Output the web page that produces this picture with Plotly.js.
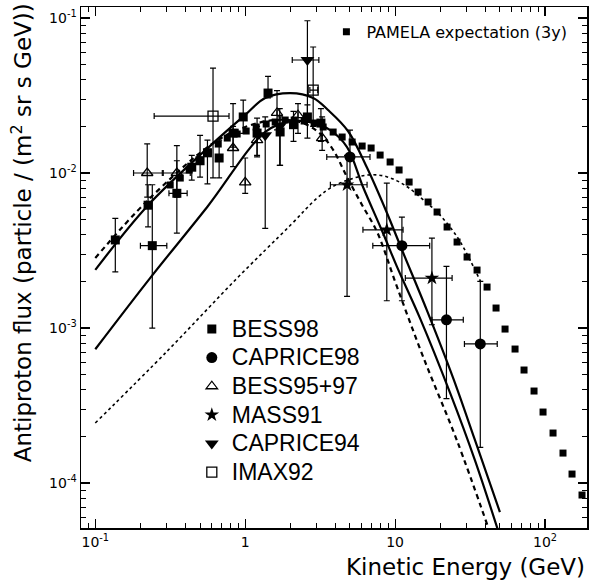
<!DOCTYPE html>
<html>
<head>
<meta charset="utf-8">
<script src="https://cdn.plot.ly/plotly-3.0.1.min.js"></script>
<style>
html,body{margin:0;padding:0;background:#fff;}
#chart{width:589px;height:583px;}
</style>
</head>
<body>
<div id="chart"></div>
<script>
// ---------- Model curves ----------
const curveUpperX = [0.1, 0.225, 0.612, 1.0, 1.36, 2.0, 2.84, 3.57, 4.86, 6.5, 8.84, 11.1, 16.3, 24.4, 34.1, 50];
const curveUpperY = [2.37e-3, 6.2e-3, 1.56e-2, 2.37e-2, 3.05e-2, 3.28e-2, 3.05e-2, 2.55e-2, 1.86e-2, 1.08e-2, 5.5e-3, 3.2e-3, 1.3e-3, 4.75e-4, 1.89e-4, 6.5e-5];

const curveMidX = [0.1, 0.232, 0.558, 1.36, 2.0, 2.71, 3.69, 4.78, 6.12, 8.3, 10.3, 14.7, 23.3, 34.1, 48.5];
const curveMidY = [7.3e-4, 2.1e-3, 6.04e-3, 1.84e-2, 2.16e-2, 2.13e-2, 1.89e-2, 1.47e-2, 8.1e-3, 4.1e-3, 2.48e-3, 1.15e-3, 3.8e-4, 1.4e-4, 4.98e-5];

const curveDashX = [0.1, 0.225, 0.612, 1.0, 1.585, 2.33, 3.07, 3.86, 4.78, 6.03, 7.59, 10.3, 15.4, 25.8, 41.7];
const curveDashY = [2.83e-3, 6.7e-3, 1.56e-2, 1.98e-2, 2.2e-2, 2.13e-2, 1.84e-2, 1.41e-2, 9.4e-3, 6.2e-3, 4.16e-3, 1.84e-3, 6.5e-4, 1.89e-4, 5.2e-5];

const curveDotX = [0.1, 0.302, 0.884, 2.0, 3.02, 3.86, 5.0, 6.5, 8.3, 10.3, 12.6, 16.3, 19.1, 25.8, 31.6, 37.3];
const curveDotY = [2.44e-4, 7.1e-4, 2.1e-3, 4.6e-3, 6.9e-3, 8.2e-3, 9.1e-3, 9.7e-3, 9.6e-3, 8.9e-3, 7.9e-3, 6.4e-3, 5.6e-3, 3.9e-3, 2.75e-3, 1.98e-3];

// ---------- PAMELA expectation ----------
const pamelaX = [0.316, 0.369, 0.423, 0.494, 0.567, 0.661, 0.759, 0.884, 1.015, 1.184, 1.380, 1.585, 1.848, 2.122, 2.474, 2.884, 3.311, 3.861, 4.434, 5.168, 6.026, 6.918, 7.943, 9.261, 10.63, 12.40, 14.23, 16.60, 19.05, 22.22, 25.90, 30.20, 35.21, 41.05, 47.13, 54.12, 63.10, 72.44, 84.48, 97.0, 113.1, 131.8, 151.4, 176.5];
const pamelaY = [8.37e-3, 9.28e-3, 1.046e-2, 1.213e-2, 1.366e-2, 1.538e-2, 1.681e-2, 1.785e-2, 1.866e-2, 1.981e-2, 2.071e-2, 2.133e-2, 2.197e-2, 2.197e-2, 2.165e-2, 2.102e-2, 1.981e-2, 1.838e-2, 1.707e-2, 1.585e-2, 1.493e-2, 1.45e-2, 1.306e-2, 1.178e-2, 1.046e-2, 8.747e-3, 7.54e-3, 6.5e-3, 5.603e-3, 4.484e-3, 3.588e-3, 2.871e-3, 2.366e-3, 1.838e-3, 1.346e-3, 9.85e-4, 7.32e-4, 5.36e-4, 3.923e-4, 2.871e-4, 2.102e-4, 1.561e-4, 1.143e-4, 8.37e-5];

// ---------- BESS98 ----------
const bessX   = [0.136, 0.225, 0.24, 0.35, 0.44, 0.5, 0.56, 0.67, 0.83, 0.97, 1.2, 1.42, 1.71, 2.1, 2.6, 3.2];
const bessY   = [3.7e-3, 6.2e-3, 3.4e-3, 7.4e-3, 1.09e-2, 1.2e-2, 1.35e-2, 1.25e-2, 1.81e-2, 2.3e-2, 1.81e-2, 3.28e-2, 1.84e-2, 2.05e-2, 2.3e-2, 2.1e-2];
const bessHi  = [5.1e-3, 8.4e-3, 8.4e-3, 1.2e-2, 1.3e-2, 1.75e-2, 1.63e-2, 1.63e-2, 2.8e-2, 2.95e-2, 2.26e-2, 4.2e-2, 2.3e-2, 2.5e-2, 2.75e-2, 2.6e-2];
const bessLo  = [2.3e-3, 4.5e-3, 1.0e-3, 4.1e-3, 9.0e-3, 9.4e-3, 8.5e-3, 9.3e-3, 1.47e-2, 1.8e-2, 1.27e-2, 3.05e-2, 1.12e-2, 1.6e-2, 1.68e-2, 1.6e-2];
const bessXlo = [null, null, 0.2, 0.31, null, null, null, null, null, null, null, null, null, null, null, null];
const bessXhi = [null, null, 0.3, 0.41, null, null, null, null, null, null, null, null, null, null, null, null];

// ---------- CAPRICE98 ----------
const cap98X   = [5.0, 11.1, 22, 37];
const cap98Y   = [1.27e-2, 3.4e-3, 1.13e-3, 7.9e-4];
const cap98Hi  = [1.89e-2, 5.2e-3, 2.5e-3, 2.0e-3];
const cap98Lo  = [8.4e-3, 1.5e-3, 3.5e-4, 1.7e-4];
const cap98Xlo = [3.5, 7.1, 17.6, 29];
const cap98Xhi = [6.8, 17, 28.5, 48];

// ---------- BESS95+97 ----------
const b95X   = [0.222, 0.35, 0.83, 1.0, 1.2, 1.63, 2.25, 3.26];
const b95Y   = [1.0e-2, 1.0e-2, 1.45e-2, 8.7e-3, 1.63e-2, 2.44e-2, 2.36e-2, 1.68e-2];
const b95Hi  = [1.54e-2, 1.5e-2, 2.0e-2, 1.25e-2, 2.0e-2, 3.4e-2, 2.8e-2, 2.3e-2];
const b95Lo  = [7e-3, 7e-3, 1.1e-2, 7.4e-3, 1.3e-2, 1.9e-2, 1.8e-2, 1.4e-2];
const b95Xlo = [0.18, 0.284, null, null, null, null, null, null];
const b95Xhi = [0.28, 0.43, null, null, null, null, null, null];

// ---------- MASS91 ----------
const massX   = [4.78, 8.8, 17.6];
const massY   = [8.4e-3, 4.3e-3, 2.1e-3];
const massHi  = [1.3e-2, 8.6e-3, 3.8e-3];
const massLo  = [1.6e-3, 1.5e-3, 1.05e-3];
const massXlo = [3.7, 6.1, 11.7];
const massXhi = [6.5, 11.3, 24];

// ---------- CAPRICE94 ----------
const cap94X   = [1.36, 1.7, 2.6];
const cap94Y   = [1.75e-2, 2.0e-2, 5.36e-2];
const cap94Hi  = [2.3e-2, 2.6e-2, 9.6e-2];
const cap94Lo  = [4.4e-3, 1.12e-2, 2.2e-2];
const cap94Xlo = [null, null, 2.06];
const cap94Xhi = [null, null, 3.1];

// ---------- IMAX92 ----------
const imaxX   = [0.61, 2.84];
const imaxY   = [2.33e-2, 3.43e-2];
const imaxHi  = [4.75e-2, 6.5e-2];
const imaxLo  = [9.3e-3, 2.0e-2];
const imaxXlo = [0.247, 2.7];
const imaxXhi = [0.78, 3.05];

// ---------- axis ticks ----------
const xTickVals = [0.1, 1, 10, 100];
const xTickText = ['10<sup>-1</sup>', '1', '10', '10<sup>2</sup>'];
const yTickVals = [1e-4, 1e-3, 1e-2, 1e-1];
const yTickText = ['10<sup>-4</sup>', '10<sup>-3</sup>', '10<sup>-2</sup>', '10<sup>-1</sup>'];

function minorVals(lo, hi) {
  const out = [];
  for (let e = lo; e <= hi; e++) {
    for (let m = 2; m <= 9; m++) out.push(m * Math.pow(10, e));
  }
  return out;
}

function plus(v, hi) { return v.map((d, i) => hi[i] == null ? null : hi[i] - d); }
function minus(v, lo) { return v.map((d, i) => lo[i] == null ? null : d - lo[i]); }

function legendName(s) { return '<span style="font-size:23px">' + s + '</span>'; }

function dataTrace(name, x, y, hi, lo, xlo, xhi, symbol, size, lineW) {
  return {
    type: 'scatter', mode: 'markers', name: legendName(name), x: x, y: y,
    marker: { symbol: symbol, size: size, color: 'black', line: { color: 'black', width: lineW } },
    error_y: { type: 'data', symmetric: false, array: plus(y, hi), arrayminus: minus(y, lo), color: 'black', thickness: 1.2, width: 3 },
    error_x: { type: 'data', symmetric: false, array: plus(x, xhi), arrayminus: minus(x, xlo), color: 'black', thickness: 1.2, width: 3 },
    legend: 'legend', cliponaxis: true
  };
}

const traces = [
  { type: 'scatter', mode: 'lines', x: curveDotX, y: curveDotY, line: { color: 'black', width: 1.6, dash: 'dot', shape: 'spline' }, showlegend: false },
  { type: 'scatter', mode: 'lines', x: curveDashX, y: curveDashY, line: { color: 'black', width: 2.2, dash: '5px,4px', shape: 'spline' }, showlegend: false },
  { type: 'scatter', mode: 'lines', x: curveMidX, y: curveMidY, line: { color: 'black', width: 2.2, shape: 'spline' }, showlegend: false },
  { type: 'scatter', mode: 'lines', x: curveUpperX, y: curveUpperY, line: { color: 'black', width: 2.2, shape: 'spline' }, showlegend: false },
  { type: 'scatter', mode: 'markers', name: 'PAMELA expectation (3y)', x: pamelaX, y: pamelaY,
    marker: { symbol: 'square', size: 7, color: 'black' }, legend: 'legend2' },
  dataTrace('BESS98', bessX, bessY, bessHi, bessLo, bessXlo, bessXhi, 'square', 9, 0),
  dataTrace('CAPRICE98', cap98X, cap98Y, cap98Hi, cap98Lo, cap98Xlo, cap98Xhi, 'circle', 11, 0),
  dataTrace('BESS95+97', b95X, b95Y, b95Hi, b95Lo, b95Xlo, b95Xhi, 'triangle-up-open', 10, 1.3),
  dataTrace('MASS91', massX, massY, massHi, massLo, massXlo, massXhi, 'star', 11, 0),
  dataTrace('CAPRICE94', cap94X, cap94Y, cap94Hi, cap94Lo, cap94Xlo, cap94Xhi, 'triangle-down', 12, 0),
  dataTrace('IMAX92', imaxX, imaxY, imaxHi, imaxLo, imaxXlo, imaxXhi, 'square-open', 10, 1.3)
];

const axisCommon = {
  type: 'log', showgrid: false, zeroline: false, showline: true, linecolor: 'black', linewidth: 1.5,
  mirror: 'allticks', ticks: 'inside', ticklen: 9, tickwidth: 1.2, tickcolor: 'black',
  tickfont: { family: 'DejaVu Sans', size: 14, color: 'black' }, tickmode: 'array'
};

const layout = {
  width: 589, height: 583,
  margin: { l: 81, r: 2, t: 7, b: 55 },
  paper_bgcolor: 'white', plot_bgcolor: 'white',
  font: { family: 'DejaVu Sans', color: 'black' },
  xaxis: Object.assign({}, axisCommon, {
    range: [-1.0953, 2.28], tickvals: xTickVals, ticktext: xTickText, ticklabelstandoff: 1,
    minor: { tickmode: 'array', tickvals: minorVals(-2, 2), ticks: 'inside', ticklen: 5, tickwidth: 1, tickcolor: 'black', showgrid: false }
  }),
  yaxis: Object.assign({}, axisCommon, {
    range: [-4.290, -0.929], tickvals: yTickVals, ticktext: yTickText,
    minor: { tickmode: 'array', tickvals: minorVals(-5, -1), ticks: 'inside', ticklen: 5, tickwidth: 1, tickcolor: 'black', showgrid: false }
  }),
  showlegend: true,
  legend: {
    x: 0.219, y: 0.419, xanchor: 'left', yanchor: 'top',
    bgcolor: 'rgba(0,0,0,0)', borderwidth: 0,
    font: { family: 'Liberation Sans', size: 19.7, color: 'black' },
    traceorder: 'normal', itemclick: false
  },
  legend2: {
    x: 0.485, y: 0.985, xanchor: 'left', yanchor: 'top',
    bgcolor: 'rgba(0,0,0,0)', borderwidth: 0,
    font: { family: 'DejaVu Sans', size: 16, color: 'black' }
  },
  annotations: [
    { text: 'Kinetic Energy (GeV)', xref: 'paper', yref: 'paper', x: 1.0, y: -0.074, xanchor: 'right', yanchor: 'middle',
      showarrow: false, font: { family: 'DejaVu Sans', size: 23, color: 'black' } },
    { text: 'Antiproton flux (particle / (m<sup>2</sup> sr s GeV))', xref: 'paper', yref: 'paper', x: -0.1166, y: 1.01,
      xanchor: 'center', yanchor: 'top', textangle: -90, showarrow: false,
      font: { family: 'DejaVu Sans', size: 23, color: 'black' } }
  ]
};

Plotly.newPlot('chart', traces, layout, { displayModeBar: false, staticPlot: true });
</script>
</body>
</html>
